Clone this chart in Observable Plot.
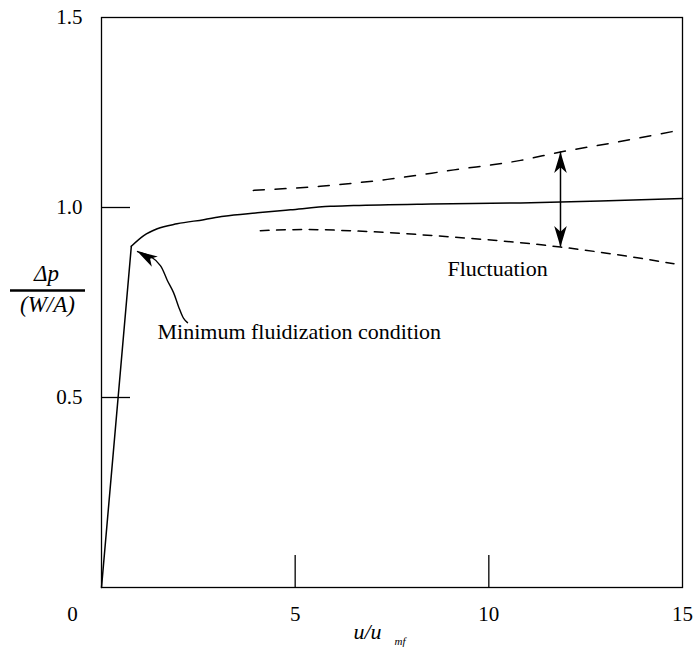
<!DOCTYPE html>
<html>
<head>
<meta charset="utf-8">
<script src="https://cdn.jsdelivr.net/npm/d3@7"></script>
<script src="https://cdn.jsdelivr.net/npm/@observablehq/plot@0.6"></script>
<style>
  body { margin: 0; background: #fff; }
  #chart { width: 699px; height: 653px; }
</style>
</head>
<body>
<div id="chart"></div>
<script>
// Bed pressure drop (normalised by bed weight per area) against u/umf
const bedX = [0, 0.77, 1.09, 1.44, 1.95, 2.64, 3.16, 4.02, 4.88, 5.91, 6.51, 8.5, 10.82, 12.88, 15];
const bedY = [0, 0.898, 0.926, 0.944, 0.957, 0.968, 0.977, 0.986, 0.994, 1.003, 1.005, 1.009, 1.012, 1.017, 1.024];

// Upper and lower envelopes of the fluctuating pressure drop
const upperX = [3.92, 5.65, 7.38, 9.1, 10.82, 11.85, 13.3, 15];
const upperY = [1.045, 1.056, 1.074, 1.099, 1.124, 1.146, 1.172, 1.205];
const lowerX = [4.1, 5.3, 6.6, 9.1, 10.65, 11.85, 13.3, 14.78];
const lowerY = [0.939, 0.942, 0.938, 0.922, 0.909, 0.896, 0.876, 0.852];

// Double arrow marking the fluctuation band
const spanX = [11.85];
const spanLow = [0.896];
const spanHigh = [1.146];

// Leader from the label to the minimum fluidization point
const leaderX = [0.93, 1.27, 1.52, 1.70, 1.86, 1.99, 2.12, 2.22];
const leaderY = [0.884, 0.871, 0.847, 0.808, 0.776, 0.739, 0.708, 0.697];

// Axis ticks
const xTicks = [5, 10, 15];
const yTicks = [0.5, 1.0, 1.5];
const xInnerTicks = [5, 10];
const yInnerTicks = [0.5, 1.0];

// Annotation labels
const minFluidLabel = {x: 1.446, y: 0.653, text: "Minimum fluidization condition"};
const fluctLabel = {x: 11.52, y: 0.821, text: "Fluctuation"};

const bed = bedX.map((x, i) => ({x, y: bedY[i]}));
const upper = upperX.map((x, i) => ({x, y: upperY[i]}));
const lower = lowerX.map((x, i) => ({x, y: lowerY[i]}));
const leader = leaderX.map((x, i) => ({x, y: leaderY[i]}));
const span = spanX.map((x, i) => ({x, lo: spanLow[i], hi: spanHigh[i]}));

const W = 699, H = 653;
const margin = {top: 17, right: 17, bottom: 66, left: 101};
const innerW = W - margin.left - margin.right;
const innerH = H - margin.top - margin.bottom;
const serif = "'Liberation Serif', Tinos, 'Times New Roman', Times, 'DejaVu Serif', 'Noto Serif', serif";
const fs = 21;
const txt = {fontFamily: serif, fontSize: fs, fill: "black"};

// Filled, barbed arrowhead with its tip at the origin, pointing up
const arrowHead = {
  draw(context, size) {
    const r = Math.sqrt(size / Math.PI);
    const L = 2 * r, hw = 0.6 * r, notch = 1.45 * r;
    context.moveTo(0, 0);
    context.lineTo(hw, L);
    context.lineTo(0, notch);
    context.lineTo(-hw, L);
    context.closePath();
  }
};

const chart = Plot.plot({
  width: W,
  height: H,
  marginTop: margin.top,
  marginRight: margin.right,
  marginBottom: margin.bottom,
  marginLeft: margin.left,
  x: {domain: [0, 15]},
  y: {domain: [0, 1.5]},
  style: {fontSize: `${fs}px`, color: "black", background: "white", overflow: "visible"},
  marks: [
    Plot.frame({stroke: "black", strokeWidth: 1.3}),
    Plot.ruleX(xInnerTicks, {insetTop: innerH - 32, stroke: "black", strokeWidth: 1.3}),
    Plot.ruleY(yInnerTicks, {insetRight: innerW - 29, stroke: "black", strokeWidth: 1.3}),
    Plot.axisY(yTicks, {tickSize: 0, tickPadding: 19, tickFormat: d3.format(".1f"), label: null, ...txt}),
    Plot.axisX(xTicks, {tickSize: 0, tickPadding: 19, label: null, ...txt}),
    Plot.text(["0"], {text: d => d, frameAnchor: "bottom-left", textAnchor: "middle", dx: -29, dy: 19, lineAnchor: "top", ...txt}),

    // x-axis title u/u_mf
    Plot.text(["u/u"], {text: d => d, frameAnchor: "bottom-left", textAnchor: "start", dx: 252, dy: 51, lineAnchor: "bottom", fontStyle: "italic", ...txt, fontSize: 22}),
    Plot.text(["mf"], {text: d => d, frameAnchor: "bottom-left", textAnchor: "start", dx: 293, dy: 57, lineAnchor: "bottom", fontStyle: "italic", ...txt, fontSize: 11}),

    // y-axis title Δp / (W/A)
    Plot.text(["Δp"], {text: d => d, frameAnchor: "top-left", textAnchor: "middle", dx: -55, dy: 263, lineAnchor: "bottom", fontStyle: "italic", ...txt, fontSize: 23}),
    Plot.text(["(W/A)"], {text: d => d, frameAnchor: "top-left", textAnchor: "middle", dx: -54, dy: 294, lineAnchor: "bottom", fontStyle: "italic", ...txt, fontSize: 23}),

    // pressure drop curve: linear rise to minimum fluidization, then a smooth plateau
    Plot.line(bed.slice(0, 2), {x: "x", y: "y", stroke: "black", strokeWidth: 1.5}),
    Plot.line(bed.slice(1), {x: "x", y: "y", stroke: "black", strokeWidth: 1.5, curve: "monotone-x"}),

    // fluctuation envelopes
    Plot.line(upper, {x: "x", y: "y", stroke: "black", strokeWidth: 1.5, strokeDasharray: "11,10.7", curve: "monotone-x"}),
    Plot.line(lower, {x: "x", y: "y", stroke: "black", strokeWidth: 1.5, strokeDasharray: "8.7,7.6", curve: "monotone-x"}),

    // double arrow
    Plot.ruleX(span, {x: "x", y1: "lo", y2: "hi", stroke: "black", strokeWidth: 1.5}),
    Plot.dot(span, {x: "x", y: "hi", symbol: arrowHead, r: 10.5, rotate: 0, fill: "black", stroke: null}),
    Plot.dot(span, {x: "x", y: "lo", symbol: arrowHead, r: 10.5, rotate: 180, fill: "black", stroke: null}),

    // leader arrow to minimum fluidization point
    Plot.line(leader, {x: "x", y: "y", stroke: "black", strokeWidth: 1.4, curve: "catmull-rom"}),
    Plot.dot(leader.slice(0, 1), {x: "x", y: "y", symbol: arrowHead, r: 10, rotate: -60, fill: "black", stroke: null}),

    // annotation labels
    Plot.text([minFluidLabel], {x: "x", y: "y", text: "text", textAnchor: "start", lineAnchor: "bottom", ...txt, fontSize: 22}),
    Plot.text([fluctLabel], {x: "x", y: "y", text: "text", textAnchor: "end", lineAnchor: "bottom", ...txt, fontSize: 22})
  ]
});

// all labels in a Times-like face where one is available
d3.select(chart).attr("font-family", serif).style("font-family", serif);

// fraction bar of the y-axis title
d3.select(chart).append("line")
  .attr("x1", 10).attr("x2", 85)
  .attr("y1", 290.5).attr("y2", 290.5)
  .attr("stroke", "black").attr("stroke-width", 2.5);

document.getElementById("chart").appendChild(chart);
</script>
</body>
</html>
